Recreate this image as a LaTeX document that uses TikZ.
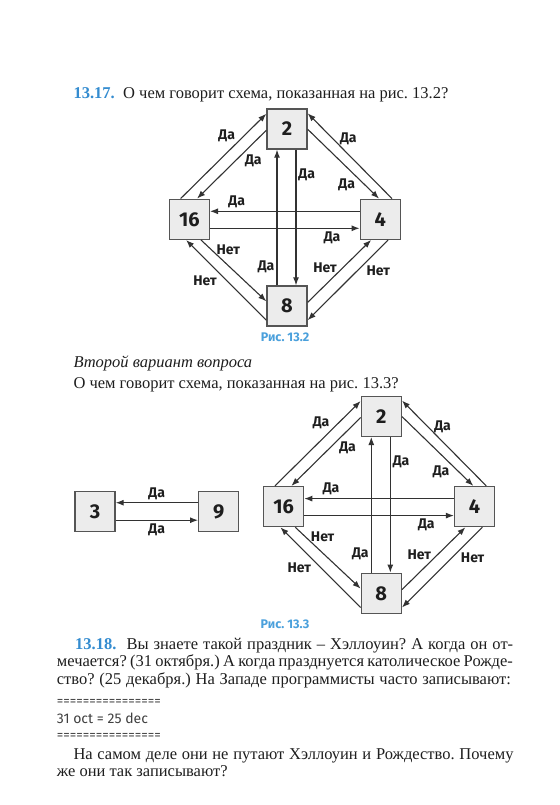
\documentclass[tikz,border=0pt]{standalone}
\usepackage{fontspec}
\setmainfont{Liberation Serif}
\newfontfamily\schemefont{Fira Sans}
\usetikzlibrary{positioning,arrows.meta,calc}

\definecolor{headblue}{RGB}{52,140,208}
\definecolor{capblue}{RGB}{74,160,220}
\definecolor{boxfill}{RGB}{236,236,236}
\definecolor{boxline}{RGB}{85,85,85}
\definecolor{arrline}{RGB}{50,50,50}
\definecolor{bodytext}{RGB}{30,30,30}

\newcommand{\bodysize}{\fontsize{16.5}{19}\selectfont}
\frenchspacing

\begin{document}
\begin{tikzpicture}[x=1pt,y=-1pt,
  every node/.style={font=\bodysize,text=bodytext},
  numbox/.style={draw=boxline,fill=boxfill,line width=1.4pt,minimum size=40pt,
    inner sep=0pt,font=\schemefont\bfseries\fontsize{20}{20}\selectfont},
  conn/.style={draw=arrline,line width=1.1pt,-{Latex[length=8pt,width=6pt]}},
  lbl/.style={font=\schemefont\bfseries\fontsize{14}{14}\selectfont,inner sep=0pt},
  figcap/.style={font=\schemefont\bfseries\fontsize{12.5}{12.5}\selectfont,text=capblue},
  bodyline/.style={anchor=base west,inner sep=0pt},
  codeline/.style={anchor=base west,inner sep=0pt,
    font=\schemefont\fontsize{13}{13}\selectfont,text=black!75}]
  \useasboundingbox[fill=white] (0,0) rectangle (559,805);

  % Exercise 13.17
  \node[bodyline,text=headblue,font=\bodysize\bfseries] (num17) at (73.3,98.5) {13.17.};
  \node[bodyline] (ask2) at (123,98.5) {О чем говорит схема, показанная на рис. 13.2?};

  % Second variant
  \node[bodyline,font=\bodysize\itshape] (variant) at (73.3,367.5) {Второй вариант вопроса};
  \node[bodyline] (ask3) at (73.3,388) {О чем говорит схема, показанная на рис. 13.3?};

  % Both diamond schemes (Fig. 13.2 and Fig. 13.3)
  \foreach \f/\cx/\cy in {a/287/129, b/381.3/416.3} {
    \node[numbox] (\f2) at (\cx,\cy) {2};
    \node[numbox] (\f16) at (\cx-97.7,\cy+90.3) {16};
    \node[numbox] (\f4) at (\cx+93.3,\cy+90.3) {4};
    \node[numbox] (\f8) at (\cx,\cy+177) {8};
    % upper left
    \draw[conn] ($(\f16.north west)+(12,0)$) -- ($(\f2.north west)+(0,5.5)$);
    \draw[conn] ($(\f2.north west)+(0,22)$) -- ($(\f16.north west)+(28.5,0)$);
    % upper right
    \draw[conn] ($(\f4.north east)+(-9,0)$) -- ($(\f2.north east)+(0,5)$);
    \draw[conn] ($(\f2.north east)+(0,21)$) -- ($(\f4.north east)+(-22,0)$);
    % lower left
    \draw[conn] ($(\f16.south east)+(-9,0)$) -- ($(\f8.north west)+(0,16)$);
    \draw[conn] ($(\f8.south west)+(0,-6.5)$) -- ($(\f16.south west)+(17.5,0)$);
    % lower right
    \draw[conn] ($(\f8.north east)+(0,17)$) -- ($(\f4.south west)+(11.5,0)$);
    \draw[conn] ($(\f4.south west)+(28.5,0)$) -- ($(\f8.south east)+(0,-6.5)$);
    % across
    \draw[conn] ($(\f4.west)+(0,-8)$) -- ($(\f16.east)+(0,-8)$);
    \draw[conn] ($(\f16.east)+(0,9)$) -- ($(\f4.west)+(0,9)$);
    \draw[conn] ($(\f8.north)+(-10,0)$) -- ($(\f2.south)+(-10,0)$);
    \draw[conn] ($(\f2.south)+(9,0)$) -- ($(\f8.north)+(9,0)$);
    % labels
    \foreach \lx/\ly/\txt [count=\k] in {-60.3/7/Да, -33.7/31.7/Да, 61.3/10.3/Да,
        59.7/56/Да, 19.7/46/Да, -21/137.5/Да, -50.3/72.7/Да, 45/108.5/Да,
        -58.7/120.3/Нет, -82/151.7/Нет, 38/138.3/Нет, 91.3/141.7/Нет}
      \node[lbl] (\f l\k) at ($(\f2.center)+(\lx,\ly)$) {\txt};
  }

  % pair 3 -- 9
  \node[numbox] (b3) at (95,511.7) {3};
  \node[numbox] (b9) at (218.7,511.7) {9};
  \draw[conn] ($(b9.west)+(0,-9)$) -- ($(b3.east)+(0,-9)$);
  \draw[conn] ($(b3.east)+(0,8.5)$) -- ($(b9.west)+(0,8.5)$);
  \node[lbl] (b3l1) at (156.7,494) {Да};
  \node[lbl] (b3l2) at (156.7,530) {Да};

  % captions
  \node[figcap] (cap2) at (285,337) {Рис. 13.2};
  \node[figcap] (cap3) at (285,624.5) {Рис. 13.3};

  % Exercise 13.18
  \node[bodyline] (par1) at (75,649.5) {\makebox[438pt][s]{{\color{headblue}\bfseries 13.18.}\ \ Вы знаете такой праздник – Хэллоуин? А когда он от-}};
  \node[bodyline] (par2) at (56.7,666) {\makebox[456pt][s]{мечается? (31 октября.) А когда празднуется католическое Рожде-}};
  \node[bodyline] (par3) at (56.7,684) {\makebox[454pt][s]{ство? (25 декабря.) На Западе программисты часто записывают:}};
  \node[codeline] (rule1) at (56.7,705) {================};
  \node[codeline,font=\schemefont\fontsize{14}{14}\selectfont] (code) at (56.7,723) {31 oct = 25 dec};
  \node[codeline] (rule2) at (56.7,739.5) {================};
  \node[bodyline] (par4) at (73.3,759.5) {\makebox[440pt][s]{На самом деле они не путают Хэллоуин и Рождество. Почему}};
  \node[bodyline] (par5) at (56.7,776.5) {же они так записывают?};
\end{tikzpicture}
\end{document}
